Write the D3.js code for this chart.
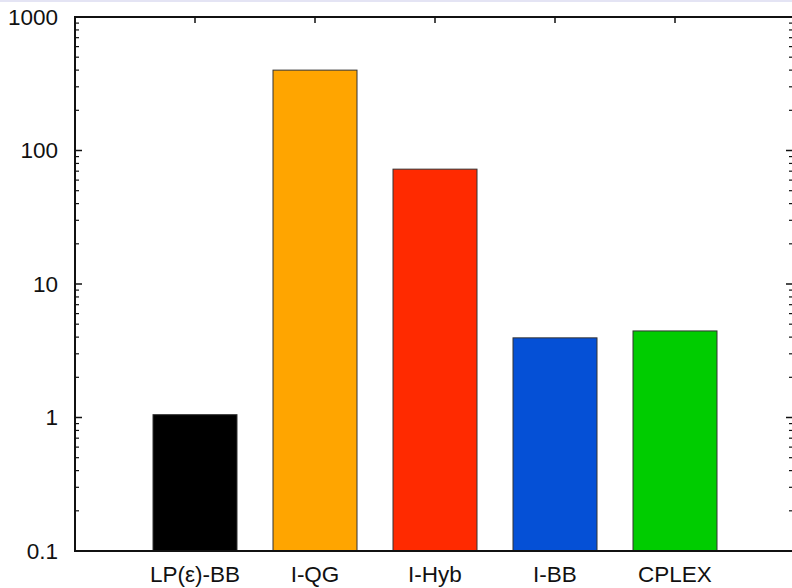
<!DOCTYPE html>
<meta charset="utf-8">
<style>
body { margin: 0; background: #fff; }
.tick-label { font-family: "Liberation Sans", Arial, sans-serif; font-size: 22.5px; fill: #111; }
</style>
<body>
<script src="https://cdn.jsdelivr.net/npm/d3@7"></script>
<script>

var categories = ["LP(\u03b5)-BB", "I-QG", "I-Hyb", "I-BB", "CPLEX"];
var values = [1.05, 400, 72.5, 3.95, 4.45];
var colors = ["#000000", "#ffa500", "#ff2a00", "#0550d6", "#00cc00"];
var yTicks = [0.1, 1, 10, 100, 1000];
var yTickLabels = ["0.1", "1", "10", "100", "1000"];

var width = 792, height = 588;
var pLeft = 75, pRight = 795, pTop = 17, pBottom = 551;

var x = d3.scaleLinear().domain([0, 6]).range([pLeft, pRight]);
var y = d3.scaleLog().domain([0.1, 1000]).range([pBottom, pTop]);
var barW = 84;

var svg = d3.select("body").append("svg")
    .attr("width", width)
    .attr("height", height);

// thin band on top edge
svg.append("rect")
    .attr("x", 0).attr("y", 0)
    .attr("width", width).attr("height", 2)
    .style("fill", "#e4e4f4");

// bars
svg.selectAll(".bar")
    .data(values)
    .enter().append("rect")
      .attr("class", "bar")
      .attr("x", function(d, i) { return x(i + 1) - barW / 2; })
      .attr("y", function(d) { return y(d); })
      .attr("width", barW)
      .attr("height", function(d) { return pBottom - y(d); })
      .style("fill", function(d, i) { return colors[i]; })
      .style("stroke", "#333")
      .style("stroke-width", 1);

// minor/major ticks on left and right
var minor = [];
[0.1, 1, 10, 100].forEach(function(b) {
  for (var k = 2; k <= 9; k++) minor.push(b * k);
});

var g = svg.append("g").style("stroke", "#111");

g.selectAll(".ymaj")
    .data(yTicks)
    .enter().append("line")
      .attr("x1", pLeft).attr("x2", pLeft + 7)
      .attr("y1", function(d) { return y(d); })
      .attr("y2", function(d) { return y(d); })
      .style("stroke-width", 1.5);
g.selectAll(".ymin")
    .data(minor)
    .enter().append("line")
      .attr("x1", pLeft).attr("x2", pLeft + 4)
      .attr("y1", function(d) { return y(d); })
      .attr("y2", function(d) { return y(d); })
      .style("stroke-width", 1.2);
g.selectAll(".ymajr")
    .data(yTicks)
    .enter().append("line")
      .attr("x1", pRight).attr("x2", pRight - 9)
      .attr("y1", function(d) { return y(d); })
      .attr("y2", function(d) { return y(d); })
      .style("stroke-width", 1.5);
g.selectAll(".yminr")
    .data(minor)
    .enter().append("line")
      .attr("x1", pRight).attr("x2", pRight - 6)
      .attr("y1", function(d) { return y(d); })
      .attr("y2", function(d) { return y(d); })
      .style("stroke-width", 1.2);

// top ticks at bar centres
g.selectAll(".xtop")
    .data(categories)
    .enter().append("line")
      .attr("x1", function(d, i) { return x(i + 1); })
      .attr("x2", function(d, i) { return x(i + 1); })
      .attr("y1", pTop).attr("y2", pTop + 6)
      .style("stroke-width", 1.5);

// frame
svg.append("rect")
    .attr("x", pLeft).attr("y", pTop)
    .attr("width", pRight - pLeft).attr("height", pBottom - pTop)
    .style("fill", "none")
    .style("stroke", "#111")
    .style("stroke-width", 2);

// y labels
svg.selectAll(".ylab")
    .data(yTicks)
    .enter().append("text")
      .attr("class", "tick-label")
      .attr("x", 58)
      .attr("y", function(d) { return y(d); })
      .attr("dy", "0.35em")
      .style("text-anchor", "end")
      .text(function(d, i) { return yTickLabels[i]; });

// x labels
svg.selectAll(".xlab")
    .data(categories)
    .enter().append("text")
      .attr("class", "tick-label")
      .attr("x", function(d, i) { return x(i + 1); })
      .attr("y", 582)
      .style("text-anchor", "middle")
      .text(function(d) { return d; });

</script>
</body>
